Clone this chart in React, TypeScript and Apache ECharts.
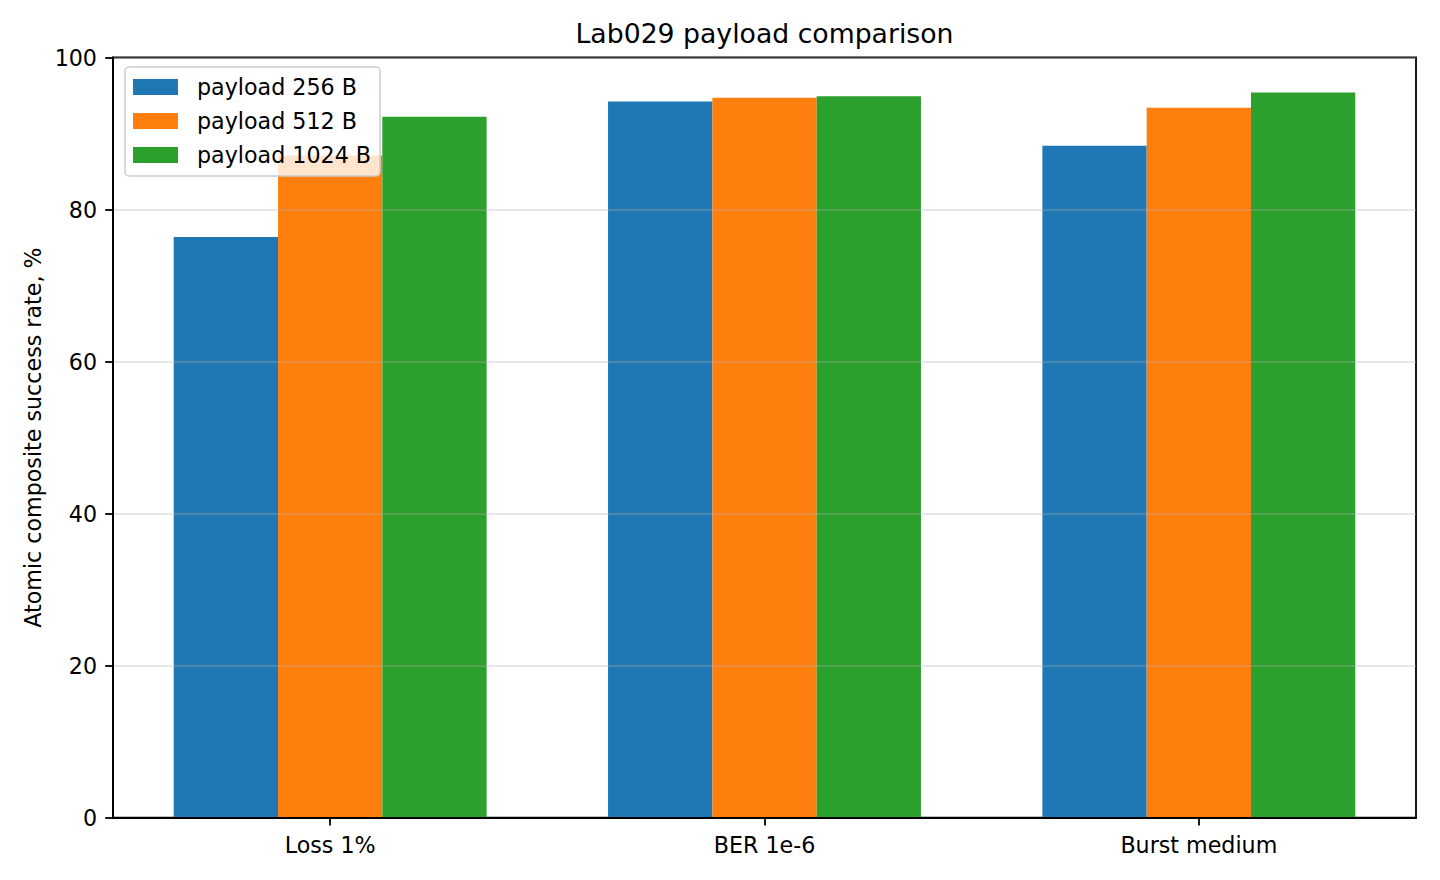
import React, { useEffect, useRef } from "react";
import * as echarts from "echarts";

const categories = ["Loss 1%", "BER 1e-6", "Burst medium"];
const seriesNames = ["payload 256 B", "payload 512 B", "payload 1024 B"];
const payload256 = [76.4, 94.2, 88.4];
const payload512 = [87.1, 94.7, 93.4];
const payload1024 = [92.2, 94.9, 95.4];
const seriesColors = ["#1f77b4", "#ff7f0e", "#2ca02c"];
const yTicks = { min: 0, max: 100, interval: 20 };

const FONT = "DejaVu Sans";

export default function App() {
  const ref = useRef<HTMLDivElement>(null);
  useEffect(() => {
    document.body.style.margin = "0";
    if (!ref.current) return;
    const chart = echarts.init(ref.current, undefined, { renderer: "svg" });
    const values = [payload256, payload512, payload1024];
    chart.setOption({
      animation: false,
      backgroundColor: "#ffffff",
      textStyle: { fontFamily: FONT, color: "#000" },
      title: {
        text: "Lab029 payload comparison",
        left: 764.5,
        top: 20,
        padding: 0,
        textAlign: "center",
        textStyle: { fontFamily: FONT, fontSize: 26.7, fontWeight: "normal", color: "#000" },
      },
      grid: {
        left: 113,
        right: 24,
        top: 57.5,
        bottom: 62.3,
        show: true,
        borderColor: "#000",
        borderWidth: 1.8,
        backgroundColor: "transparent",
      },
      legend: {
        orient: "vertical",
        left: 125,
        top: 67,
        padding: [9, 9, 10, 8],
        itemGap: 12,
        itemWidth: 45,
        itemHeight: 16,
        icon: "rect",
        backgroundColor: "rgba(255,255,255,0.8)",
        borderColor: "#cccccc",
        borderWidth: 1.5,
        borderRadius: 4,
        z: 10,
        textStyle: {
          fontFamily: FONT,
          fontSize: 22.2,
          lineHeight: 22,
          color: "#000",
          padding: [0, 0, 0, 14],
        },
        data: seriesNames,
      },
      xAxis: {
        type: "category",
        data: categories,
        z: 4,
        axisLine: { show: true, lineStyle: { color: "#000", width: 1.8 } },
        axisTick: { show: true, alignWithLabel: true, length: 7.8, lineStyle: { color: "#000", width: 1.8 } },
        axisLabel: { margin: 16, fontFamily: FONT, fontSize: 22.2, color: "#000" },
        splitLine: { show: false },
      },
      yAxis: {
        type: "value",
        min: yTicks.min,
        max: yTicks.max,
        interval: yTicks.interval,
        z: 3,
        name: "Atomic composite success rate, %",
        nameLocation: "middle",
        nameGap: 67,
        nameRotate: 90,
        nameTextStyle: { fontFamily: FONT, fontSize: 22.2, color: "#000" },
        axisLine: { show: true, lineStyle: { color: "#000", width: 1.8 } },
        axisTick: { show: true, length: 7.8, lineStyle: { color: "#000", width: 1.8 } },
        axisLabel: { margin: 16, fontFamily: FONT, fontSize: 22.2, color: "#000" },
        splitLine: { show: true, lineStyle: { color: "rgba(176,176,176,0.3)", width: 1.8 } },
      },
      series: seriesNames.map((name, i) => ({
        name,
        type: "bar",
        data: values[i],
        barWidth: 104.3,
        barGap: "0%",
        itemStyle: { color: seriesColors[i] },
      })),
    });
    return () => chart.dispose();
  }, []);
  return (
    <div
      ref={ref}
      style={{ position: "absolute", left: 0, top: 0, width: 1440, height: 880 }}
    />
  );
}
